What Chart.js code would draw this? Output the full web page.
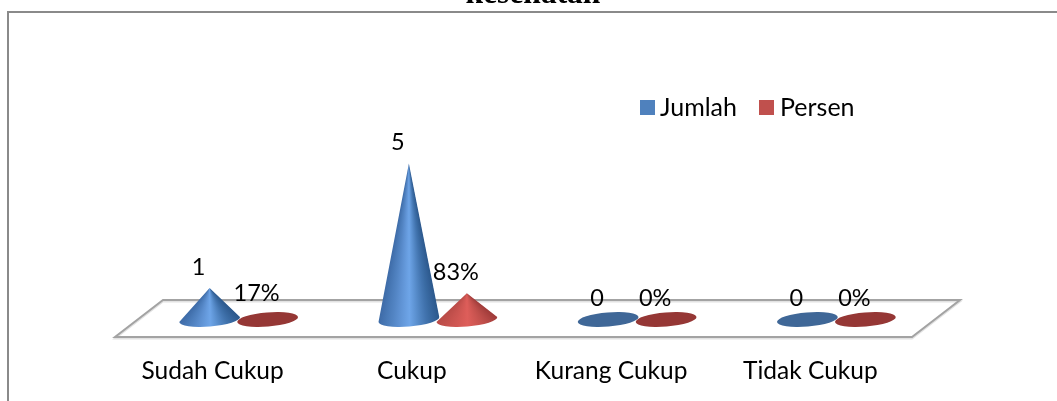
<!DOCTYPE html>
<html><head><meta charset="utf-8">
<style>html,body{margin:0;padding:0;background:#fff;overflow:hidden}canvas{display:block}</style>
<script src="https://cdn.jsdelivr.net/npm/chart.js@4"></script>
</head><body><canvas id="c" width="1057" height="401"></canvas>
<script>
const categories = ['Sudah Cukup','Cukup','Kurang Cukup','Tidak Cukup'];
const jumlah = [1,5,0,0];
const persen = [0.17,0.83,0,0];
const persenLabels = ['17%','83%','0%','0%'];
const jumlahLabels = ['1','5','0','0'];
const titleText = 'kesehatan';
const FONT = 'Lato, Carlito, sans-serif';

const shades = [
  {flat:'#3F6797', stops:[[0,[62,108,168]],[0.5,[110,165,232]],[0.8,[62,112,170]],[1,[44,88,140]]]},
  {flat:'#953735', stops:[[0,[186,76,72]],[0.5,[222,94,90]],[0.8,[190,78,74]],[1,[160,60,58]]]}
];
function shade(s,u){
  for(let i=1;i<s.length;i++){
    if(u<=s[i][0]){
      const a=s[i-1],b=s[i],t=(u-a[0])/(b[0]-a[0]);
      return 'rgb('+a[1].map((v,k)=>Math.round(v+(b[1][k]-v)*t)).join(',')+')';
    }
  }
  return 'rgb('+s[s.length-1][1].join(',')+')';
}
function swatch(color){
  const c=document.createElement('canvas');c.width=15;c.height=15;
  const x=c.getContext('2d');x.fillStyle=color;x.fillRect(0,0,15,15);return c;
}
const ROT=-0.082;
const cones={
  id:'cones',
  beforeDatasetDraw(chart,args){
    const ctx=chart.ctx, meta=args.meta, sh=shades[args.index];
    meta.data.forEach(el=>{
      const cx=el.x, cy=el.base+0.5, rx=el.width/2+1.5, ry=7, tip=el.y;
      ctx.save();
      if(cy-tip<ry){
        ctx.beginPath();ctx.ellipse(cx,cy,rx,ry,ROT,0,Math.PI*2);
        ctx.fillStyle=sh.flat;ctx.fill();
      }else{
        const pt=a=>{const px=rx*Math.cos(a),py=ry*Math.sin(a);
          return [cx+px*Math.cos(ROT)-py*Math.sin(ROT),cy+px*Math.sin(ROT)+py*Math.cos(ROT)];};
        const ang=a=>{const p=pt(a);return Math.atan2(p[1]-tip,p[0]-cx);};
        const start=ang(0);
        const g=ctx.createConicGradient(start,cx,tip);
        const N=16;
        let last=0;
        for(let i=0;i<=N;i++){
          const a=Math.PI*i/N;              // right edge (i=0) round the front to the left edge
          const u=(1+Math.cos(a))/2;        // 1 at the right edge, 0 at the left edge
          const f=Math.max(last,Math.min(1,(ang(a)-start)/(2*Math.PI)));
          last=f;
          g.addColorStop(f,shade(sh.stops,u));
        }
        ctx.beginPath();ctx.ellipse(cx,cy,rx,ry,ROT,0,Math.PI,false);ctx.lineTo(cx,tip);ctx.closePath();
        ctx.fillStyle=g;ctx.fill();
      }
      ctx.restore();
    });
    return false;
  }
};
const frame={
  id:'frame',
  beforeDraw(chart){
    const ctx=chart.ctx,a=chart.chartArea,y0=chart.scales.y.getPixelForValue(0);
    ctx.save();
    ctx.strokeStyle='#8a8a8a';ctx.lineWidth=2;
    ctx.beginPath();ctx.moveTo(8,401);ctx.lineTo(8,12);ctx.lineTo(1057,12);ctx.stroke();
    const pts=[[a.left-24,y0+18],[a.right-24,y0+18],[a.right+24,y0-19],[a.left+24,y0-19]];
    const path=(dx,dy)=>{ctx.beginPath();pts.forEach((p,i)=>i?ctx.lineTo(p[0]+dx,p[1]+dy):ctx.moveTo(p[0]+dx,p[1]+dy));ctx.closePath();};
    ctx.lineJoin='miter';
    path(0,1.5);ctx.strokeStyle='#e2e2e2';ctx.lineWidth=2;ctx.stroke();
    path(0,0);ctx.strokeStyle='#a3a3a3';ctx.lineWidth=2;ctx.stroke();
    ctx.restore();
  },
  afterLayout(chart){
    const l=chart.legend;
    const w=l.width;
    l.left=617;l.right=617+w;l.top=65.5;l.bottom=65.5+l.height;
    const t=chart.titleBlock;
    const h=t.height,tw=t.width;
    t.left=533-tw/2;t.right=533+tw/2;t.top=-24;t.bottom=-24+h;
  }
};
const labelsPlugin={
  id:'valueLabels',
  afterDatasetsDraw(chart){
    const ctx=chart.ctx;
    ctx.save();
    ctx.font='23.5px '+FONT;ctx.fillStyle='#000';ctx.textAlign='center';ctx.textBaseline='middle';
    [jumlahLabels,persenLabels].forEach((txt,d)=>{
      chart.getDatasetMeta(d).data.forEach((el,i)=>{
        ctx.fillText(txt[i],el.x-11,el.y-20.5);
      });
    });
    ctx.restore();
  }
};
new Chart(document.getElementById('c'),{
  type:'bar',
  data:{labels:categories,datasets:[
    {label:'Jumlah',data:jumlah,backgroundColor:'#4F81BD'},
    {label:'Persen',data:persen,backgroundColor:'#C0504D'}
  ]},
  options:{
    responsive:false,animation:false,
    layout:{padding:{left:139,right:121,top:30,bottom:15.3}},
    categoryPercentage:0.582,barPercentage:1,
    plugins:{
      tooltip:{enabled:false},
      title:{display:true,text:titleText,color:'#000',padding:0,
        font:{family:'"Liberation Serif", serif',size:31.5,weight:'bold',lineHeight:1.2}},
      legend:{display:true,position:'top',align:'start',
        labels:{usePointStyle:true,pointStyleWidth:1,boxHeight:15,padding:29.5,color:'#000',
          font:{family:FONT,size:25},
          generateLabels(chart){
            return Chart.defaults.plugins.legend.labels.generateLabels(chart).map((it,i)=>{
              it.pointStyle=swatch(['#4F81BD','#C0504D'][i]);return it;});
          }}}
    },
    scales:{
      x:{offset:true,grid:{display:false,drawTicks:true,tickLength:37.3},border:{display:false},
        ticks:{color:'#000',padding:0,labelOffset:-26,autoSkip:false,maxRotation:0,minRotation:0,
          font:{family:FONT,size:24.5,lineHeight:1.2}}},
      y:{display:false,min:0,max:6}
    }
  },
  plugins:[frame,cones,labelsPlugin]
});
</script></body></html>
